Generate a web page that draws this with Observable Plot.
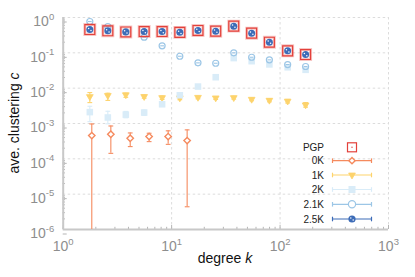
<!DOCTYPE html>
<html><head><meta charset="utf-8">
<script src="https://cdn.jsdelivr.net/npm/d3@7"></script>
<script src="https://cdn.jsdelivr.net/npm/@observablehq/plot@0.6"></script>
<style>
body{margin:0;background:#fff;font-family:"Liberation Sans",Arial,sans-serif}
#chart{position:relative;width:415px;height:277px}
</style>
</head><body><div id="chart"></div>
<script>
// ---- data ----
const kMain = [1.76,2.58,3.78,5.58,8.17,11.9,17.5,25.5,37.4,54.7,79.7,117.5,172];
const k0K   = [1.835,2.75,4.15,6.2,9.29,13.9];

const cPGP  = [0.457,0.42,0.39,0.40,0.40,0.38,0.43,0.41,0.57,0.36,0.20,0.114,0.0895];
const c25K  = [0.457,0.42,0.39,0.40,0.40,0.38,0.43,0.41,0.57,0.36,0.20,0.114,0.0895];
const c21K  = [0.77,0.556,0.40,0.277,0.158,0.080,0.052,0.0507,0.100,0.075,0.0633,0.0466,0.041];
const c2K   = [0.0021,0.00148,0.00178,0.00204,0.0035,0.0063,0.0111,0.0204,0.071,0.058,0.047,0.039,0.033];
const c2Klo = [0.00113,0.00098,0.00145,0.0017,0.0031,0.0057,0.0101,0.0188,0.064,0.052,0.042,0.035,0.029];
const c2Khi = [0.00307,0.00222,0.0022,0.0024,0.0039,0.0069,0.0121,0.022,0.078,0.064,0.052,0.043,0.037];
const c1K   = [0.00578,0.0062,0.0065,0.0058,0.0054,0.0053,0.0055,0.0053,0.0054,0.00485,0.00455,0.0043,0.00336];
const c1Klo = [0.0039,0.0045,0.0055,0.0052,0.0048,0.0047,0.005,0.0048,0.0049,0.0044,0.0041,0.0038,0.0029];
const c1Khi = [0.0075,0.0072,0.0072,0.0064,0.006,0.0058,0.006,0.0058,0.0059,0.0053,0.005,0.0048,0.0039];
const c0K   = [4.54e-4,4.95e-4,3.82e-4,4.26e-4,4.26e-4,3.28e-4];
const c0Klo = [1e-8,1.43e-4,2.22e-4,3.07e-4,2.57e-4,4.4e-6];
const c0Khi = [9.7e-4,8.5e-4,5.4e-4,5.3e-4,6.2e-4,6.6e-4];

const seriesNames = ["PGP","0K","1K","2K","2.1K","2.5K"];
const xDecades = [1,10,100,1000];
const yDecades = [1e-6,1e-5,1e-4,1e-3,1e-2,1e-1,1];
const minorMult = [2,3,4,5,6,7,8,9];

// ---- styling ----
const col = {PGP:"#e3413b", "0K":"#f58a5e", "1K":"#fdd36c", "2K":"#d9ecf8", "2.1K":"#9cc6e6", "2.5K":"#3d6cb7"};
const font = "Liberation Sans, Arial, sans-serif";

const rows = kMain.map((k,i)=>({k, pgp:cPGP[i], c25:c25K[i], c21:c21K[i],
  c2:c2K[i], lo2:c2Klo[i], hi2:c2Khi[i], c1:c1K[i], lo1:c1Klo[i], hi1:c1Khi[i]}));
const rows0 = k0K.map((k,i)=>({k, c:c0K[i], lo:c0Klo[i], hi:c0Khi[i]}));

const xMinor = xDecades.slice(0,-1).flatMap(d=>minorMult.map(m=>d*m));
const yMinor = yDecades.slice(0,-1).flatMap(d=>minorMult.map(m=>d*m));

const cap = {draw(ctx){ctx.moveTo(-2.4,0);ctx.lineTo(2.4,0);}};
const hbar = {draw(ctx){ctx.moveTo(-1.9,0);ctx.lineTo(1.9,0);}};
const expFmt = d => "10^" + Math.round(Math.log10(d));

const plot = Plot.plot({
  width:415, height:277,
  marginLeft:62.7, marginRight:27, marginTop:17, marginBottom:48,
  x:{type:"log", domain:[1,1000]},
  y:{type:"log", domain:[1e-6,1]},
  style:{fontFamily:font, background:"white", overflow:"visible"},
  marks:[
    Plot.gridX({ticks:xDecades, stroke:"#dcdcdc", strokeOpacity:1, strokeDasharray:"2.5,2.5"}),
    Plot.gridY({ticks:yDecades, stroke:"#dcdcdc", strokeOpacity:1, strokeDasharray:"2.5,2.5"}),
    Plot.axisX({ticks:xMinor, tickSize:-2.2, tickFormat:()=>"", stroke:"#b5b5b5", label:null}),
    Plot.axisY({ticks:yMinor, tickSize:-2.2, tickFormat:()=>"", stroke:"#b5b5b5", label:null}),
    Plot.axisX({ticks:xDecades, tickSize:-4, tickPadding:16, tickFormat:expFmt, stroke:"#b5b5b5", fill:"#8e8e8e", fontSize:14, label:null}),
    Plot.axisY({ticks:yDecades, tickSize:-4, tickPadding:13, tickFormat:expFmt, stroke:"#b5b5b5", fill:"#8e8e8e", fontSize:14, dy:4.5, label:null}),
    Plot.ruleX([1], {stroke:"#c8c8c8", strokeWidth:2}),
    Plot.ruleY([1e-6], {stroke:"#c8c8c8", strokeWidth:2}),

    // 0K
    Plot.ruleX(rows0, {x:"k", y1:"lo", y2:"hi", stroke:col["0K"], strokeWidth:1.1, clip:true}),
    Plot.dot(rows0, {x:"k", y:"hi", symbol:cap, stroke:col["0K"], strokeWidth:1.1}),
    Plot.dot(rows0.filter(d=>d.lo>1e-6), {x:"k", y:"lo", symbol:cap, stroke:col["0K"], strokeWidth:1.1}),
    Plot.dot(rows0, {x:"k", y:"c", symbol:"diamond2", r:2.9, stroke:col["0K"], strokeWidth:1.4, fill:"white"}),

    // 1K
    Plot.ruleX(rows, {x:"k", y1:"lo1", y2:"hi1", stroke:col["1K"], strokeWidth:1.1}),
    Plot.dot(rows, {x:"k", y:"hi1", symbol:cap, stroke:col["1K"], strokeWidth:1.1}),
    Plot.dot(rows, {x:"k", y:"lo1", symbol:cap, stroke:col["1K"], strokeWidth:1.1}),
    Plot.dot(rows, {x:"k", y:"c1", symbol:"triangle", rotate:180, r:2.5, fill:col["1K"], stroke:col["1K"], strokeWidth:0.8}),

    // 2K
    Plot.ruleX(rows, {x:"k", y1:"lo2", y2:"hi2", stroke:col["2K"], strokeWidth:1.1}),
    Plot.dot(rows, {x:"k", y:"hi2", symbol:cap, stroke:col["2K"], strokeWidth:1.1}),
    Plot.dot(rows, {x:"k", y:"lo2", symbol:cap, stroke:col["2K"], strokeWidth:1.1}),
    Plot.dot(rows, {x:"k", y:"c2", symbol:"square", r:3.7, fill:col["2K"]}),

    // 2.1K
    Plot.dot(rows, {x:"k", y:"c21", symbol:"circle", r:3, stroke:col["2.1K"], strokeWidth:1.2, fill:"none"}),
    Plot.dot(rows, {x:"k", y:"c21", symbol:hbar, stroke:col["2.1K"], strokeWidth:1.1}),

    // PGP
    Plot.dot(rows, {x:"k", y:"pgp", symbol:"square", r:5.6, stroke:col.PGP, strokeOpacity:0.3, strokeWidth:3, fill:"none"}),
    Plot.dot(rows, {x:"k", y:"pgp", symbol:"square", r:5.6, stroke:col.PGP, strokeWidth:1.2, fill:"none"}),

    // 2.5K
    Plot.dot(rows, {x:"k", y:"c25", symbol:"circle", r:3.5, fill:col["2.5K"]}),
    Plot.dot(rows, {x:"k", y:"c25", r:0.75, fill:"white", dx:-1.2, dy:-1.1}),
    Plot.dot(rows, {x:"k", y:"c25", r:0.75, fill:"white", dx:1.2, dy:1.1})
  ]
});

// superscript exponents in tick labels
d3.select(plot).selectAll('g[aria-label="x-axis tick label"] text, g[aria-label="y-axis tick label"] text').each(function(){
  const t = this.textContent;
  if (!t.startsWith("10^")) return;
  const e = t.slice(3);
  const s = d3.select(this);
  s.text("");
  s.append("tspan").text("10");
  s.append("tspan").attr("dy","-6.8").attr("font-size","9.5").text(e);
});

const svg = d3.select(plot);
// axis labels
const yl = svg.append("text").attr("transform","translate(19,123) rotate(-90)")
  .attr("text-anchor","middle").attr("font-size",14).attr("fill","#111").attr("font-family",font);
yl.append("tspan").text("ave. clustering ");
yl.append("tspan").attr("font-style","italic").text("c");
const xl = svg.append("text").attr("x",225).attr("y",263)
  .attr("text-anchor","middle").attr("font-size",14).attr("fill","#111").attr("font-family",font);
xl.append("tspan").text("degree ");
xl.append("tspan").attr("font-style","italic").text("k");

// legend
const lg = svg.append("g").attr("font-family",font).attr("font-size",10);
const rowY = [147.3,160.7,175,189.5,204.3,219];
seriesNames.forEach((name,i)=>{
  const y = rowY[i], c = col[name];
  const g = lg.append("g").attr("transform",`translate(0,${y})`);
  g.append("text").attr("x",324).attr("y",0).attr("dy","0.35em").attr("text-anchor","end").attr("fill","#222").text(name);
  const sx = 352;
  if (name !== "PGP") {
    g.append("line").attr("x1",332.5).attr("x2",371.5).attr("stroke",c).attr("stroke-width",1.2);
    g.append("line").attr("x1",332.5).attr("x2",332.5).attr("y1",-2.3).attr("y2",2.3).attr("stroke",c).attr("stroke-width",1.2);
    g.append("line").attr("x1",371.5).attr("x2",371.5).attr("y1",-2.3).attr("y2",2.3).attr("stroke",c).attr("stroke-width",1.2);
  }
  if (name === "PGP") {
    g.append("rect").attr("x",sx-4.5).attr("y",-4.5).attr("width",9).attr("height",9).attr("fill","none").attr("stroke",c).attr("stroke-width",1.2);
    g.append("circle").attr("cx",sx).attr("r",0.7).attr("fill",c);
  } else if (name === "0K") {
    g.append("path").attr("d",d3.symbol(d3.symbolDiamond2, 25)()).attr("transform",`translate(${sx},0)`).attr("fill","white").attr("stroke",c).attr("stroke-width",1.4);
  } else if (name === "1K") {
    g.append("path").attr("d",d3.symbol(d3.symbolTriangle, 20)()).attr("transform",`translate(${sx},0) rotate(180)`).attr("fill",c).attr("stroke",c).attr("stroke-width",0.8);
  } else if (name === "2K") {
    g.append("rect").attr("x",sx-3.5).attr("y",-3.5).attr("width",7).attr("height",7).attr("fill",c);
  } else if (name === "2.1K") {
    g.append("circle").attr("cx",sx).attr("r",3.6).attr("fill","white").attr("stroke",c).attr("stroke-width",1.2);
  } else {
    g.append("circle").attr("cx",sx).attr("r",3.6).attr("fill",c);
    g.append("circle").attr("cx",sx-1.2).attr("cy",-1.1).attr("r",0.75).attr("fill","white");
    g.append("circle").attr("cx",sx+1.2).attr("cy",1.1).attr("r",0.75).attr("fill","white");
  }
});

document.getElementById("chart").appendChild(plot);
</script>
</body></html>
